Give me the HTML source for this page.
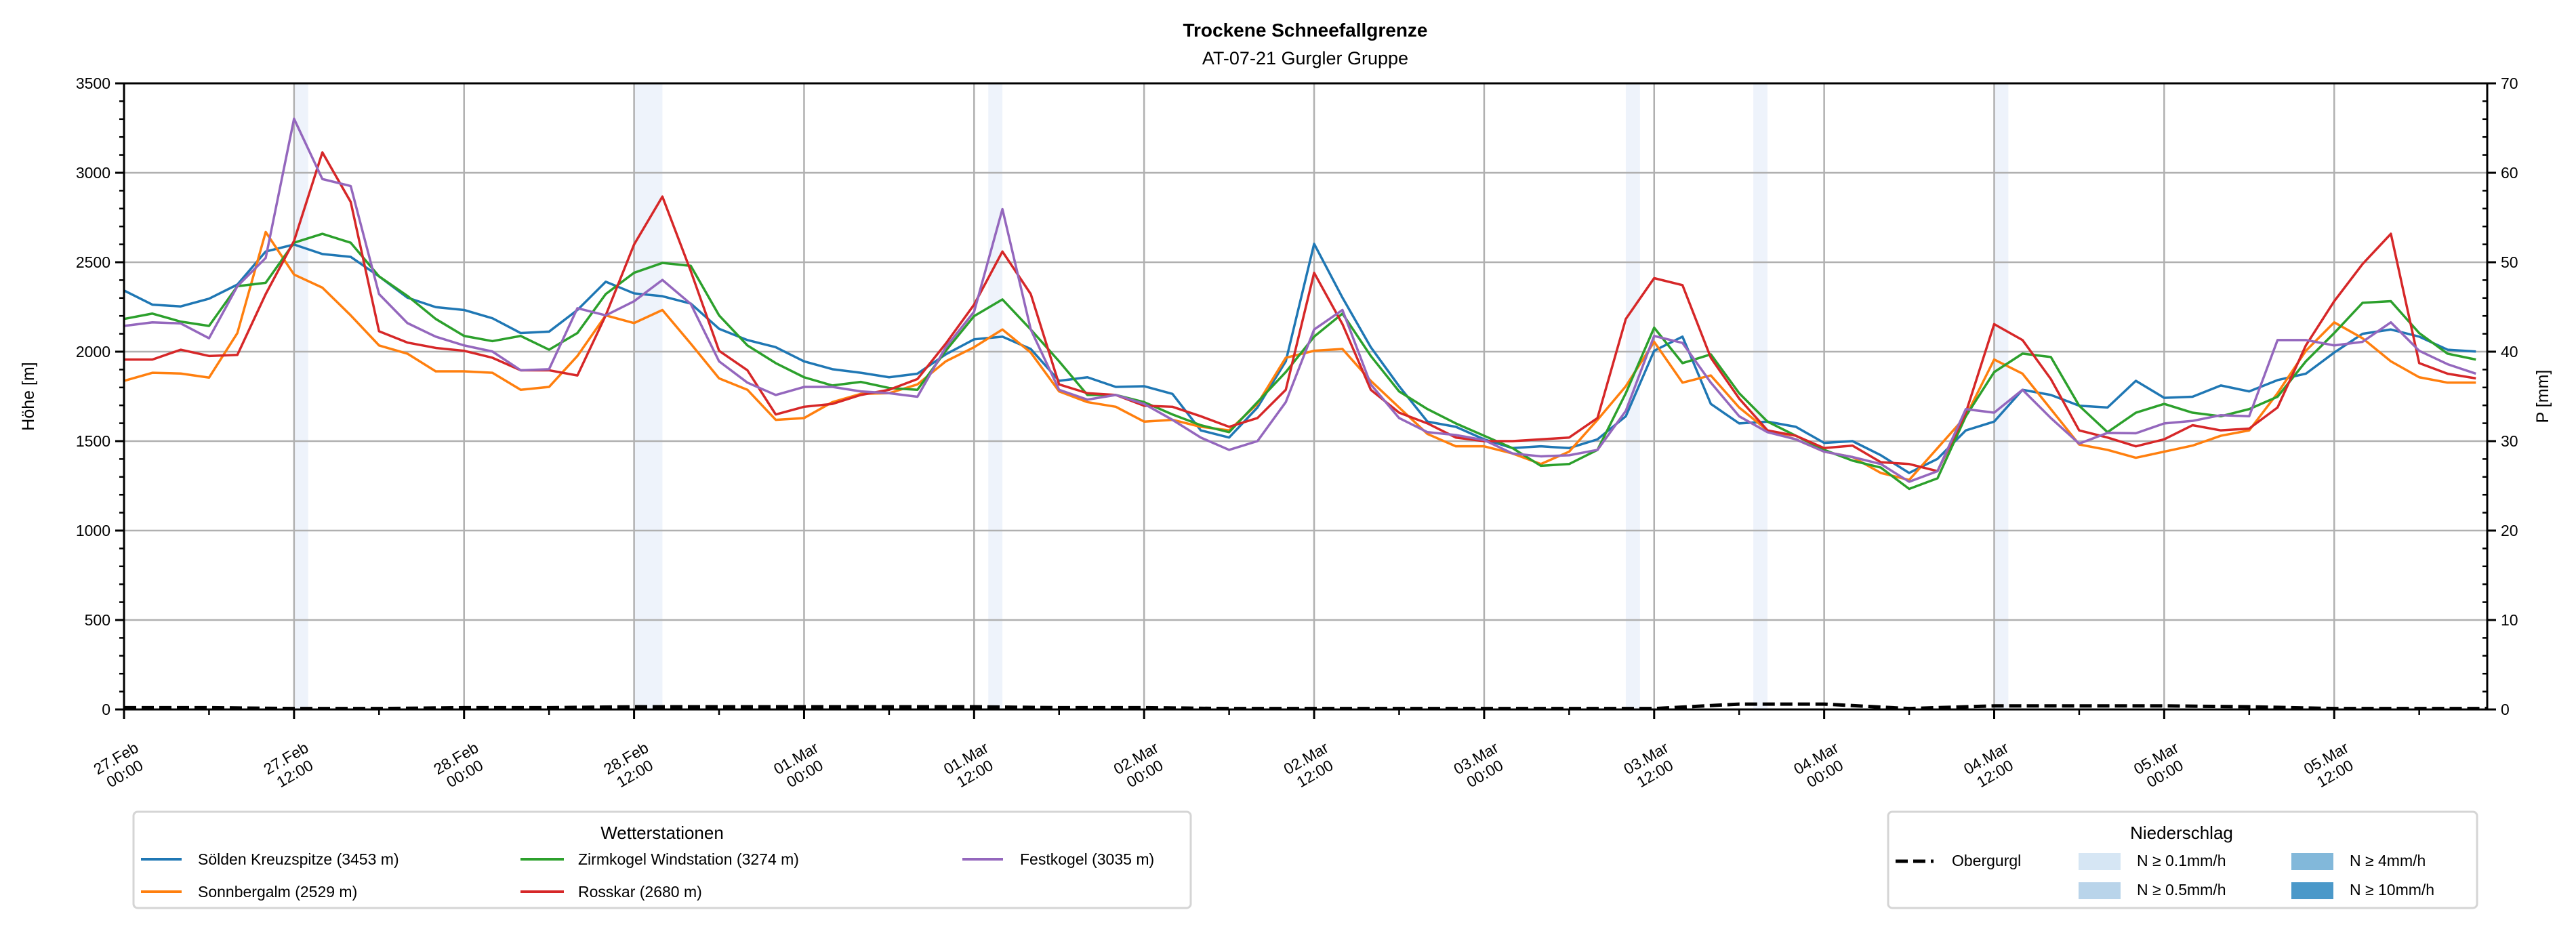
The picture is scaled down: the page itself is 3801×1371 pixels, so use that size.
<!DOCTYPE html>
<html><head><meta charset="utf-8">
<style>
html,body{margin:0;padding:0;background:#fff;}
svg{display:block;font-family:"Liberation Sans","DejaVu Sans",sans-serif;}
</style></head>
<body>
<svg id="chart" width="3801" height="1371" viewBox="0 0 3801 1371" xmlns="http://www.w3.org/2000/svg">
<rect x="0" y="0" width="3801" height="1371" fill="#fff"/>
<text x="1926" y="54" text-anchor="middle" font-size="28" font-weight="bold">Trockene Schneefallgrenze</text>
<text x="1926" y="95" text-anchor="middle" font-size="27">AT-07-21 Gurgler Gruppe</text>
<g id="bands"></g>
<g id="grid"></g>
<g id="series"></g>
<g id="axes"></g>
<text transform="translate(50,585) rotate(-90)" text-anchor="middle" font-size="25">Höhe [m]</text>
<text transform="translate(3760,585) rotate(-90)" text-anchor="middle" font-size="25">P [mm]</text>

<g>
<rect x="197" y="1198" width="1560" height="142" rx="6" fill="#fff" stroke="#d5d5d5" stroke-width="3"/>
<text x="977" y="1238" text-anchor="middle" font-size="26">Wetterstationen</text>
<g><line x1="208" y1="1268" x2="268" y2="1268" stroke="#1f77b4" stroke-width="4"/><text x="292" y="1276" font-size="23">Sölden Kreuzspitze (3453 m)</text></g>
<g><line x1="208" y1="1316" x2="268" y2="1316" stroke="#ff7f0e" stroke-width="4"/><text x="292" y="1324" font-size="23">Sonnbergalm (2529 m)</text></g>
<g><line x1="768" y1="1268" x2="832" y2="1268" stroke="#2ca02c" stroke-width="4"/><text x="853" y="1276" font-size="23">Zirmkogel Windstation (3274 m)</text></g>
<g><line x1="768" y1="1316" x2="832" y2="1316" stroke="#d62728" stroke-width="4"/><text x="853" y="1324" font-size="23">Rosskar (2680 m)</text></g>
<g><line x1="1420" y1="1268" x2="1480" y2="1268" stroke="#9467bd" stroke-width="4"/><text x="1505" y="1276" font-size="23">Festkogel (3035 m)</text></g>
</g>

<g>
<rect x="2786" y="1198" width="869" height="142" rx="6" fill="#fff" stroke="#d5d5d5" stroke-width="3"/>
<text x="3219" y="1238" text-anchor="middle" font-size="26">Niederschlag</text>
<g><line x1="2797" y1="1271" x2="2853" y2="1271" stroke="#000" stroke-width="5" stroke-dasharray="18,8"/><text x="2880" y="1278" font-size="23">Obergurgl</text></g>
<g><rect x="3067" y="1259" width="62" height="25" fill="#d6e6f4"/><text x="3153" y="1278" font-size="23">N ≥ 0.1mm/h</text></g>
<g><rect x="3067" y="1302" width="62" height="25" fill="#b9d4ea"/><text x="3153" y="1321" font-size="23">N ≥ 0.5mm/h</text></g>
<g><rect x="3381" y="1259" width="62" height="25" fill="#82b8da"/><text x="3467" y="1278" font-size="23">N ≥ 4mm/h</text></g>
<g><rect x="3381" y="1302" width="62" height="25" fill="#4a98c9"/><text x="3467" y="1321" font-size="23">N ≥ 10mm/h</text></g>
</g>
</svg>
<script>
// ---- data (hours since 27.Feb 00:00, 2-hour step) ----
const hours = Array.from({length:84},(_,i)=>i*2);
const soelden = [2342,2263,2253,2296,2375,2560,2599,2546,2530,2421,2302,2249,2233,2187,2104,2112,2233,2391,2326,2310,2269,2128,
 2065,2025,1946,1902,1882,1857,1877,1985,2069,2084,2015,1837,1857,1803,1807,1764,1560,1520,1688,1946,2603,
 2302,2025,1807,1609,1580,1510,1461,1471,1461,1510,1639,2005,2084,1708,1599,1609,1580,1490,1500,1421,1322,
 1401,1560,1609,1787,1758,1698,1688,1837,1742,1748,1811,1778,1841,1877,1995,2100,2124,2084,2011,2001];
const sonnbergalm = [1837,1882,1878,1855,2104,2669,2431,2358,2203,2035,1989,1890,1890,1882,1787,1803,1976,2203,2160,2233,2045,1851,
 1787,1619,1629,1718,1764,1768,1817,1946,2025,2124,1995,1778,1718,1692,1609,1619,1580,1560,1708,1966,2005,
 2015,1837,1688,1540,1471,1471,1431,1372,1441,1619,1807,2055,1827,1867,1688,1560,1510,1441,1411,1322,1283,
 1461,1639,1956,1877,1679,1481,1451,1407,1441,1475,1530,1560,1768,2005,2164,2075,1946,1857,1827,1827];
const zirmkogel = [2183,2213,2168,2144,2366,2385,2609,2659,2609,2421,2312,2183,2088,2059,2088,2011,2104,2322,2441,2496,2480,2203,
 2035,1936,1857,1811,1831,1797,1787,2005,2199,2292,2124,1946,1758,1758,1718,1649,1589,1550,1718,1886,2084,
 2213,1976,1778,1679,1599,1530,1461,1362,1372,1451,1768,2134,1936,1985,1768,1609,1530,1451,1391,1352,1233,
 1292,1639,1886,1989,1970,1698,1550,1659,1708,1659,1639,1679,1748,1946,2104,2273,2282,2104,1989,1956];
const rosskar = [1956,1956,2011,1976,1982,2322,2619,3114,2837,2114,2051,2021,2005,1966,1896,1896,1867,2203,2599,2867,2451,2005,
 1896,1649,1692,1708,1758,1787,1847,2045,2263,2560,2322,1817,1768,1758,1698,1692,1639,1580,1629,1787,2441,
 2154,1787,1659,1599,1520,1500,1500,1510,1520,1629,2183,2411,2372,1966,1738,1560,1530,1461,1475,1382,1372,
 1332,1659,2154,2065,1847,1560,1520,1471,1510,1589,1560,1570,1688,2035,2282,2490,2659,1936,1877,1851];
const festkogel = [2144,2164,2158,2075,2366,2524,3302,2965,2926,2322,2160,2084,2035,2001,1896,1902,2243,2203,2282,2401,2267,1946,
 1827,1758,1803,1803,1778,1768,1748,2025,2223,2797,2124,1787,1732,1758,1708,1619,1520,1451,1500,1718,2124,
 2233,1817,1629,1550,1534,1506,1431,1415,1421,1451,1669,2088,2049,1827,1639,1550,1510,1441,1411,1372,1273,
 1332,1679,1659,1787,1629,1486,1546,1544,1599,1613,1645,1639,2065,2065,2035,2055,2164,2005,1930,1877];
// precipitation (Obergurgl, mm, 6-hour step)
const precipHours = Array.from({length:29},(_,i)=>i*6);
const obergurgl = [0.2,0.2,0.1,0.1,0.2,0.2,0.3,0.3,0.3,0.3,0.3,0.2,0.2,0.1,0.1,0.1,0.1,0.1,0.1,0.6,0.6,0.1,0.4,0.4,0.4,0.3,0.1,0.1,0.1];
// precipitation intensity bands (start hour, end hour)
const bandStart = [12,36,61,106,115,132];
const bandEnd   = [13,38,62,107,116,133];
const yTicks = [0,500,1000,1500,2000,2500,3000,3500];
const y2Ticks = [0,10,20,30,40,50,60,70];
const xTickHours = [0,12,24,36,48,60,72,84,96,108,120,132,144,156];
const xTickLine1 = ["27.Feb","27.Feb","28.Feb","28.Feb","01.Mar","01.Mar","02.Mar","02.Mar","03.Mar","03.Mar","04.Mar","04.Mar","05.Mar","05.Mar"];
const xTickLine2 = ["00:00","12:00","00:00","12:00","00:00","12:00","00:00","12:00","00:00","12:00","00:00","12:00","00:00","12:00"];

// ---- axes ----
const L=183,R=3670,T=123,B=1047,HMAX=166.8;
const x = h => L + (R-L)*h/HMAX;
const y = v => B - (B-T)*v/3500;
const y2 = v => B - (B-T)*v/70;
const NS="http://www.w3.org/2000/svg";
function mk(tag,parent){const e=document.createElementNS(NS,tag);document.getElementById(parent).appendChild(e);return e;}

bandStart.forEach((s,i)=>{
  const r=mk('rect','bands');
  
  
  r.setAttribute('x',x(s));r.setAttribute('y',T);r.setAttribute('width',x(bandEnd[i])-x(s));r.setAttribute('height',B-T);r.setAttribute('fill','#eef3fb');
});
yTicks.forEach(v=>{
  const l=mk('line','grid');
  
  
  l.setAttribute('x1',L);l.setAttribute('x2',R);l.setAttribute('y1',y(v));l.setAttribute('y2',y(v));l.setAttribute('stroke','#b0b0b0');l.setAttribute('stroke-width','2.5');
});
xTickHours.forEach(h=>{
  const l=mk('line','grid');
  
  
  l.setAttribute('x1',x(h));l.setAttribute('x2',x(h));l.setAttribute('y1',T);l.setAttribute('y2',B);l.setAttribute('stroke','#b0b0b0');l.setAttribute('stroke-width','2.5');
});
const seriesList=[[soelden,'#1f77b4','series-soelden'],[sonnbergalm,'#ff7f0e','series-sonnbergalm'],[zirmkogel,'#2ca02c','series-zirmkogel'],[rosskar,'#d62728','series-rosskar'],[festkogel,'#9467bd','series-festkogel']];
seriesList.forEach(s=>{
  const p=mk('polyline','series');
  
  
  p.setAttribute('points',s[0].map((v,i)=>x(hours[i])+','+y(v)).join(' '));
  p.setAttribute('fill','none');p.setAttribute('stroke',s[1]);p.setAttribute('stroke-width','3.5');p.setAttribute('stroke-linejoin','round');
});
const pl=mk('polyline','series');


pl.setAttribute('points',obergurgl.map((v,i)=>Math.min(x(precipHours[i]),R)+','+y2(v)).join(' '));
pl.setAttribute('fill','none');pl.setAttribute('stroke','#000');pl.setAttribute('stroke-width','5');pl.setAttribute('stroke-dasharray','18,8');

// frame
const fr=mk('rect','axes');


fr.setAttribute('x',L);fr.setAttribute('y',T);fr.setAttribute('width',R-L);fr.setAttribute('height',B-T);fr.setAttribute('fill','none');fr.setAttribute('stroke','#000');fr.setAttribute('stroke-width','3');
function tick(x1,y1,x2,y2_,name,w){const l=mk('line','axes');
  
  
  l.setAttribute('x1',x1);l.setAttribute('y1',y1);l.setAttribute('x2',x2);l.setAttribute('y2',y2_);l.setAttribute('stroke','#000');l.setAttribute('stroke-width',w);}
for(let v=0;v<=3500;v+=100){const major=v%500===0;tick(L-(major?13:7),y(v),L,y(v),'y-tick',major?3:2.5);}
yTicks.forEach(v=>{const t=mk('text','axes');
  
  
  t.setAttribute('x',L-20);t.setAttribute('y',y(v)+8);t.setAttribute('text-anchor','end');t.setAttribute('font-size','23');t.textContent=v;});
for(let v=0;v<=70;v+=2){const major=v%10===0;tick(R-(major?0:7),y2(v),R+(major?13:0),y2(v),'y2-tick',major?3:2.5);}
y2Ticks.forEach(v=>{const t=mk('text','axes');
  
  
  t.setAttribute('x',R+20);t.setAttribute('y',y2(v)+8);t.setAttribute('font-size','23');t.textContent=v;});
for(let h=0;h<=HMAX;h+=6){const major=h%12===0;tick(x(h),B,x(h),B+(major?14:8),'x-tick',major?3:2.5);}
xTickHours.forEach((h,i)=>{
  const t=mk('text','axes');
  
  
  t.setAttribute('font-size','23');t.setAttribute('text-anchor','middle');
  t.setAttribute('transform','translate('+(x(h)-8)+',1126) rotate(-30)');
  const a=document.createElementNS(NS,'tspan');a.setAttribute('x','0');a.setAttribute('y','0');a.textContent=xTickLine1[i];t.appendChild(a);
  const b=document.createElementNS(NS,'tspan');b.setAttribute('x','0');b.setAttribute('y','26');b.textContent=xTickLine2[i];t.appendChild(b);
});
</script>
</body></html>
